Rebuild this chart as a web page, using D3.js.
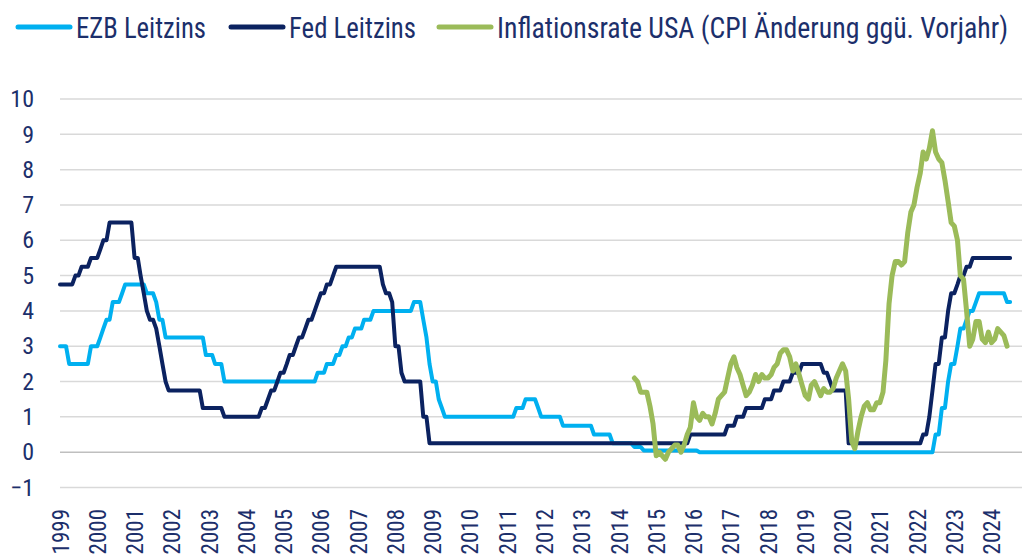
<!DOCTYPE html>
<meta charset="utf-8">
<style>
body { margin: 0; background: #fff; }
svg text {
  font-family: "Liberation Sans Narrow", "Roboto Condensed", "DejaVu Sans Condensed", Roboto, sans-serif;
  fill: #1c2f6b;
}
.grid line { stroke: #d9d9d9; stroke-width: 1.5px; }
.grid line.zero { stroke: #bfbfbf; }
.series { fill: none; stroke-linejoin: round; stroke-linecap: round; }
</style>
<svg width="1029" height="559"></svg>
<script src="https://cdnjs.cloudflare.com/ajax/libs/d3/7.8.5/d3.min.js"></script>
<script>

// rate changes: month in which the month-end value changes, new rate in %
var ezbMonths = ["1999-01","1999-04","1999-11","2000-02","2000-03","2000-04","2000-06","2000-09","2000-10",
  "2001-05","2001-08","2001-09","2001-11","2002-12","2003-03","2003-06","2005-12","2006-03","2006-06",
  "2006-08","2006-10","2006-12","2007-03","2007-06","2008-07","2008-10","2008-11","2008-12","2009-01",
  "2009-03","2009-04","2009-05","2011-04","2011-07","2011-11","2011-12","2012-07","2013-05","2013-11",
  "2014-06","2014-09","2016-03","2022-07","2022-09","2022-11","2022-12","2023-02","2023-03","2023-05",
  "2023-06","2023-08","2023-09","2024-06"];
var ezbRates = [3.00,2.50,3.00,3.25,3.50,3.75,4.25,4.50,4.75,
  4.50,4.25,3.75,3.25,2.75,2.50,2.00,2.25,2.50,2.75,
  3.00,3.25,3.50,3.75,4.00,4.25,3.75,3.25,2.50,2.00,
  1.50,1.25,1.00,1.25,1.50,1.25,1.00,0.75,0.50,0.25,
  0.15,0.05,0.00,0.50,1.25,2.00,2.50,3.00,3.50,3.75,
  4.00,4.25,4.50,4.25];

var fedMonths = ["1999-01","1999-06","1999-08","1999-11","2000-02","2000-03","2000-05","2001-01","2001-03",
  "2001-04","2001-05","2001-06","2001-08","2001-09","2001-10","2001-11","2001-12","2002-11","2003-06",
  "2004-06","2004-08","2004-09","2004-11","2004-12","2005-02","2005-03","2005-05","2005-06","2005-08",
  "2005-09","2005-11","2005-12","2006-01","2006-03","2006-05","2006-06","2007-09","2007-10","2007-12",
  "2008-01","2008-03","2008-04","2008-10","2008-12","2015-12","2016-12","2017-03","2017-06","2017-12",
  "2018-03","2018-06","2018-09","2018-12","2019-07","2019-09","2019-10","2020-03","2022-03","2022-05",
  "2022-06","2022-07","2022-09","2022-11","2022-12","2023-02","2023-03","2023-05","2023-07"];
var fedRates = [4.75,5.00,5.25,5.50,5.75,6.00,6.50,5.50,5.00,
  4.50,4.00,3.75,3.50,3.00,2.50,2.00,1.75,1.25,1.00,
  1.25,1.50,1.75,2.00,2.25,2.50,2.75,3.00,3.25,3.50,
  3.75,4.00,4.25,4.50,4.75,5.00,5.25,4.75,4.50,4.25,
  3.00,2.25,2.00,1.00,0.25,0.50,0.75,1.00,1.25,1.50,
  1.75,2.00,2.25,2.50,2.25,2.00,1.75,0.25,0.50,1.00,
  1.75,2.50,3.25,4.00,4.50,4.75,5.00,5.25,5.50];

var rateEnd = "2024-07";

// US CPI, change vs. previous year in %, monthly from June 2014
var cpiStart = "2014-06";
var cpiValues = [2.1,2.0,1.7,1.7,1.7,1.3,0.8,
  -0.1,0.0,-0.1,-0.2,0.0,0.1,0.2,0.2,0.0,0.2,0.5,0.7,
  1.4,1.0,0.9,1.1,1.0,1.0,0.8,1.1,1.5,1.6,1.7,2.1,
  2.5,2.7,2.4,2.2,1.9,1.6,1.7,1.9,2.2,2.0,2.2,2.1,
  2.1,2.2,2.4,2.5,2.8,2.9,2.9,2.7,2.3,2.5,2.2,1.9,
  1.6,1.5,1.9,2.0,1.8,1.6,1.8,1.7,1.7,1.8,2.1,2.3,
  2.5,2.3,1.5,0.3,0.1,0.6,1.0,1.3,1.4,1.2,1.2,1.4,
  1.4,1.7,2.6,4.2,5.0,5.4,5.4,5.3,5.4,6.2,6.8,7.0,
  7.5,7.9,8.5,8.3,8.6,9.1,8.5,8.3,8.2,7.7,7.1,6.5,
  6.4,6.0,5.0,4.9,4.0,3.0,3.2,3.7,3.7,3.2,3.1,3.4,
  3.1,3.2,3.5,3.4,3.3,3.0];

var yTicks = [-1,0,1,2,3,4,5,6,7,8,9,10];
var yearLabels = ["1999","2000","2001","2002","2003","2004","2005","2006","2007","2008","2009","2010","2011",
  "2012","2013","2014","2015","2016","2017","2018","2019","2020","2021","2022","2023","2024"];

var legendNames = ["EZB Leitzins", "Fed Leitzins", "Inflationsrate USA (CPI Änderung ggü. Vorjahr)"];
var colors = ["#00b0f0", "#0b2260", "#9bbb59"];

var parseMonth = d3.timeParse("%Y-%m");

function stepSeries(months, rates, end) {
  var pts = [];
  for (var i = 0; i < months.length; i++) {
    var d = parseMonth(months[i]);
    if (i > 0) pts.push({date: d3.timeMonth.offset(d, -1), v: rates[i - 1]});
    pts.push({date: d, v: rates[i]});
  }
  pts.push({date: parseMonth(end), v: rates[rates.length - 1]});
  return pts;
}

var ezb = stepSeries(ezbMonths, ezbRates, rateEnd);
var fed = stepSeries(fedMonths, fedRates, rateEnd);
var cpi = cpiValues.map(function(v, i) {
  return {date: d3.timeMonth.offset(parseMonth(cpiStart), i), v: v};
});

var svg = d3.select("svg");

var x = d3.scaleTime()
  .domain([parseMonth("1999-01"), parseMonth("2024-07")])
  .range([60, 60 + 306 * 3.105]);
var y = d3.scaleLinear().domain([-1, 10]).range([487.5, 99]);

// gridlines
svg.append("g").attr("class", "grid")
  .selectAll("line").data(yTicks).enter().append("line")
  .attr("class", function(d) { return d === 0 ? "zero" : null; })
  .attr("x1", 60).attr("x2", 1022)
  .attr("y1", function(d) { return y(d); })
  .attr("y2", function(d) { return y(d); });

// y axis
var yAxis = svg.append("g")
  .attr("transform", "translate(34,0)")
  .call(d3.axisLeft(y).tickValues(yTicks).tickSize(0).tickPadding(0));
yAxis.select(".domain").remove();
yAxis.selectAll("text").style("font-size", "24px").attr("fill", null);

// x axis
var xAxis = svg.append("g")
  .attr("transform", "translate(0,509)")
  .call(d3.axisBottom(x)
    .tickValues(yearLabels.map(function(s) { return parseMonth(s + "-01"); }))
    .tickFormat(d3.timeFormat("%Y"))
    .tickSize(0));
xAxis.select(".domain").remove();
xAxis.selectAll("text")
  .attr("x", 0).attr("y", 0).attr("dy", "0.35em")
  .attr("transform", "rotate(-90)")
  .attr("fill", null)
  .style("text-anchor", "end")
  .style("font-size", "23px");

// lines
var line = d3.line()
  .x(function(d) { return x(d.date); })
  .y(function(d) { return y(d.v); });

svg.append("path").datum(ezb).attr("class", "series")
  .attr("stroke", colors[0]).attr("stroke-width", 4).attr("d", line);
svg.append("path").datum(fed).attr("class", "series")
  .attr("stroke", colors[1]).attr("stroke-width", 4).attr("d", line);
svg.append("path").datum(cpi).attr("class", "series")
  .attr("stroke", colors[2]).attr("stroke-width", 5).attr("d", line);

// legend
var legendX = [18, 231, 439];
var legendTextW = [130, 127, 511];
var legend = svg.append("g").selectAll("g").data(legendNames).enter().append("g")
  .attr("transform", function(d, i) { return "translate(" + legendX[i] + ",27)"; });
legend.append("line")
  .attr("x1", 0).attr("x2", 52)
  .attr("stroke", function(d, i) { return colors[i]; })
  .attr("stroke-width", 5).attr("stroke-linecap", "round");
legend.append("text")
  .attr("x", 58).attr("y", 10.5)
  .attr("textLength", function(d, i) { return legendTextW[i]; })
  .attr("lengthAdjust", "spacingAndGlyphs")
  .style("font-size", "29px")
  .text(function(d) { return d; });

</script>
